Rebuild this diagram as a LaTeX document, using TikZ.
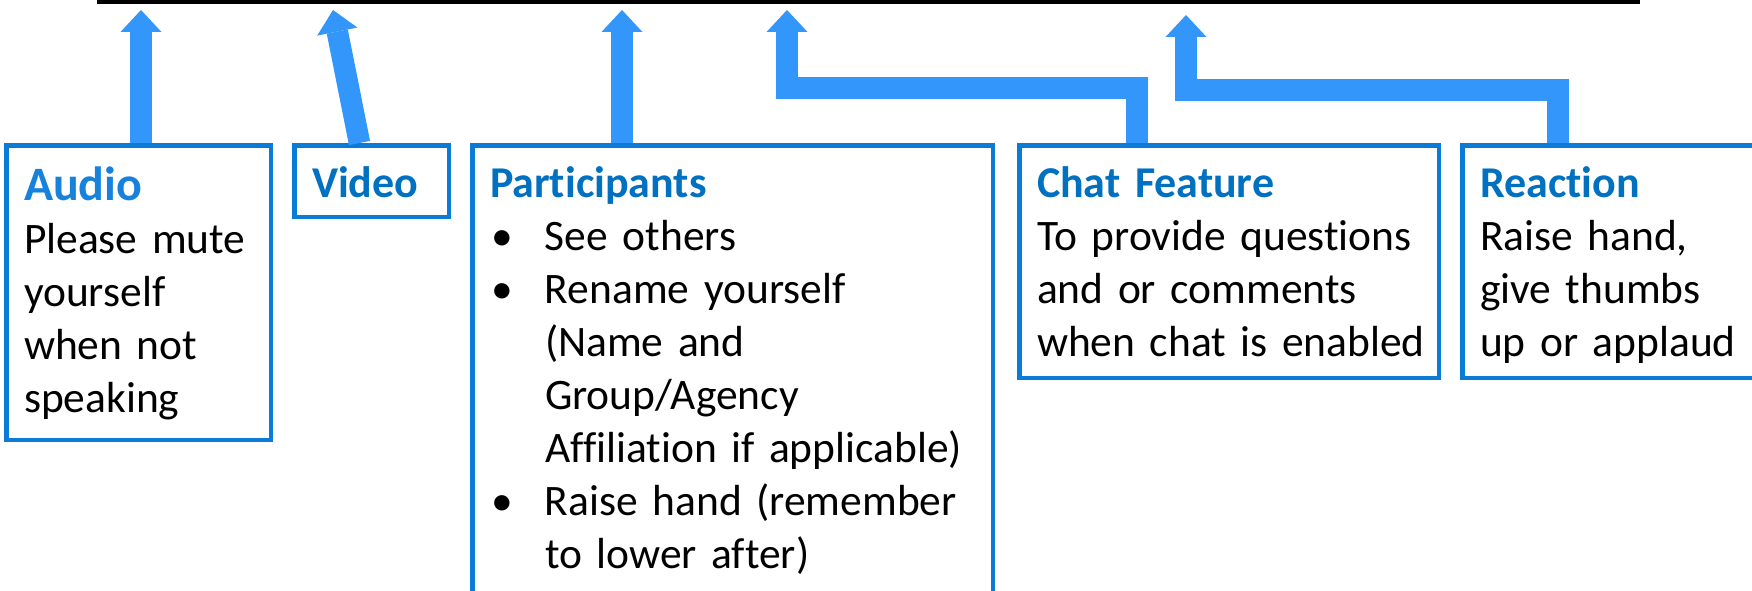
\documentclass[tikz,border=0pt]{standalone}
\usepackage{fontspec}
\setmainfont{Carlito}[Ligatures = NoCommon]
\usetikzlibrary{arrows.meta}

\definecolor{arrowblue}{HTML}{3296FA}
\definecolor{boxblue}{HTML}{0A7CD8}
\definecolor{titleblue}{HTML}{0070C0}
\definecolor{audioblue}{HTML}{1682DC}

\newcommand{\boxtitle}[1]{{\fontsize{44}{53}\selectfont\bfseries\color{titleblue}#1}}
\newcommand{\bul}{\makebox[55pt][l]{\hspace{1pt}\textbullet}}

\begin{document}
\begin{tikzpicture}[
  x = 1pt, y = -1pt,
  panel/.style = {draw = boxblue, line width = 4.5pt, anchor = north west,
    align = left, inner xsep = 17.75pt, inner ysep = 15.75pt,
    text height = 36pt, font = \fontsize{43.5}{53}\selectfont},
  pointer/.style = {arrowblue, line width = 21.5pt, line join = miter,
    -{Triangle[width = 41pt, length = 22pt, line width = 0pt]}}
  ]
  \useasboundingbox (0, 0) rectangle (1752, 591);

  % toolbar edge
  \fill [black] (97, -5) rectangle (1640, 4.5);

  % Boxes
  \node at (4, 143) [panel, name = audio, text width = 229pt,
    text height = 39pt, text depth = 224pt]
    {{\fontsize{48}{53}\selectfont\bfseries\color{audioblue}Audio}\\
     Please mute\\ yourself\\ when not\\ speaking};
  \node at (292, 143) [panel, name = video, text width = 119pt,
    text depth = 4pt] {\boxtitle{Video}};
  \node at (470, 143) [panel, name = parts, text width = 485pt,
    text depth = 400pt]
    {\boxtitle{Participants}\\
     \bul See others\\
     \bul Rename yourself\\
     \hspace*{55pt}(Name and\\
     \hspace*{55pt}Group/Agency\\
     \hspace*{55pt}Affiliation if applicable)\\
     \bul Raise hand (remember\\
     \hspace*{55pt}to lower after)};
  \node at (1017, 143) [panel, name = chat, text width = 384pt,
    text depth = 165pt]
    {\boxtitle{Chat Feature}\\ To provide questions\\ and or comments\\
     \mbox{when chat is enabled}};
  \node at (1460, 143) [panel, name = react, text width = 340pt,
    text depth = 165pt]
    {\boxtitle{Reaction}\\ Raise hand,\\ give thumbs\\ up or applaud};

  % Arrow tips under the toolbar
  \coordinate (A_tip) at (141, 10);
  \coordinate (V_tip) at (333, 10);
  \coordinate (P_tip) at (622, 10);
  \coordinate (C_tip) at (787, 10);
  \coordinate (R_tip) at (1186, 15);

  % Pointers
  \draw [pointer] (audio.north -| A_tip) -- (A_tip);
  \draw [pointer] ([xshift = -12pt]video.north) -- (V_tip);
  \draw [pointer] (parts.north -| P_tip) -- (P_tip);
  \draw [pointer] ([xshift = -92pt]chat.north) -- ++(0, -55) -| (C_tip);
  \draw [pointer] ([xshift = 98pt]react.north west) -- ++(0, -53) -| (R_tip);

\end{tikzpicture}
\end{document}
